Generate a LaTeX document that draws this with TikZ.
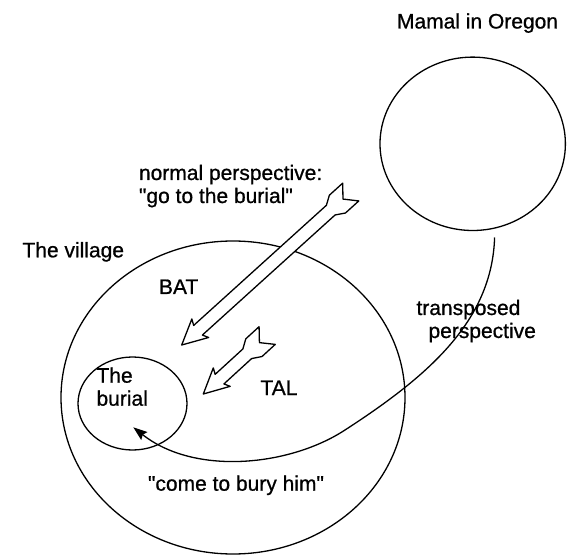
\documentclass[tikz,border=0pt]{standalone}
\usepackage{fontspec}
\setmainfont{Liberation Sans}[Ligatures=TeXOff, FakeBold=0.8]
\usetikzlibrary{shapes.geometric,arrows.meta}
\tikzset{
  lbl/.style={inner sep=0pt, outer sep=0pt, font=\fontsize{21}{23}\selectfont},
  ring/.style={draw, ellipse, line width=1.3pt, inner sep=0pt},
  hollow/.style={draw, line width=1.3pt, line join=round, fill=white},
  link/.style={draw, line width=1.3pt, -{Stealth[length=14pt,width=10pt,inset=2pt]}}
}
\newcommand\myHollowArrow[3]{% #1 tip, #2 angle, #3 length
  \begin{scope}[shift={(#1)}, rotate=#2]
    \path[hollow] (0,0) -- (25,12.5) -- (22,6.5) -- (#3-27,6.5) -- (#3-18,12)
      -- (#3,12) -- (#3-10.5,0) -- (#3,-12) -- (#3-18,-12) -- (#3-27,-6.5)
      -- (22,-6.5) -- (25,-12.5) -- cycle;
  \end{scope}}
\begin{document}
\begin{tikzpicture}[x=1pt,y=-1pt]
  \useasboundingbox (0,0) rectangle (568,556);
  % circles
  \node[ring, minimum width=185.4pt, minimum height=173.4pt] (oregon) at (472.7,143.8) {};
  \node[ring, minimum width=344pt, minimum height=313pt] (village) at (233,397.5) {};
  \node[ring, minimum width=109pt, minimum height=93pt] (burial) at (132.5,403.5) {};
  % labels
  \node[lbl, anchor=base west] (mamal) at (397,28.5) {Mamal in Oregon};
  \node[lbl, anchor=base west] (normal) at (139,180)
    {\vtop{\hbox{normal perspective:}\hbox{"go to the burial"}}};
  \node[lbl, anchor=base west] (villab) at (22.5,257.3) {The village};
  \node[lbl, anchor=base west] (bat) at (159,294) {BAT};
  \node[lbl, anchor=base west] (trans) at (416.5,315)
    {\vtop{\hbox{transposed}\hbox{\hspace{12pt}perspective}}};
  \node[lbl, anchor=base west] (tal) at (260.5,395) {TAL};
  \node[lbl, anchor=base west] (burlab) at (96.5,382.7)
    {\vtop{\hbox{The}\hbox{burial}}};
  \node[lbl, anchor=base west] (come) at (148,490.7) {"come to bury him"};
  % hollow arrows
  \coordinate (bigtip) at (181.7,345);
  \coordinate (smalltip) at (203.3,394);
  \myHollowArrow{bigtip}{42.14}{228}
  \myHollowArrow{smalltip}{42.47}{86.6}
  % transposed perspective curve
  \coordinate (tstart) at (494.6,237.5);
  \coordinate (tend) at (133.3,427.3);
  \path[link] (tstart) .. controls (492,320) and (430,375) .. (345,430)
     .. controls (290,466) and (195,476) .. (tend);
\end{tikzpicture}
\end{document}
